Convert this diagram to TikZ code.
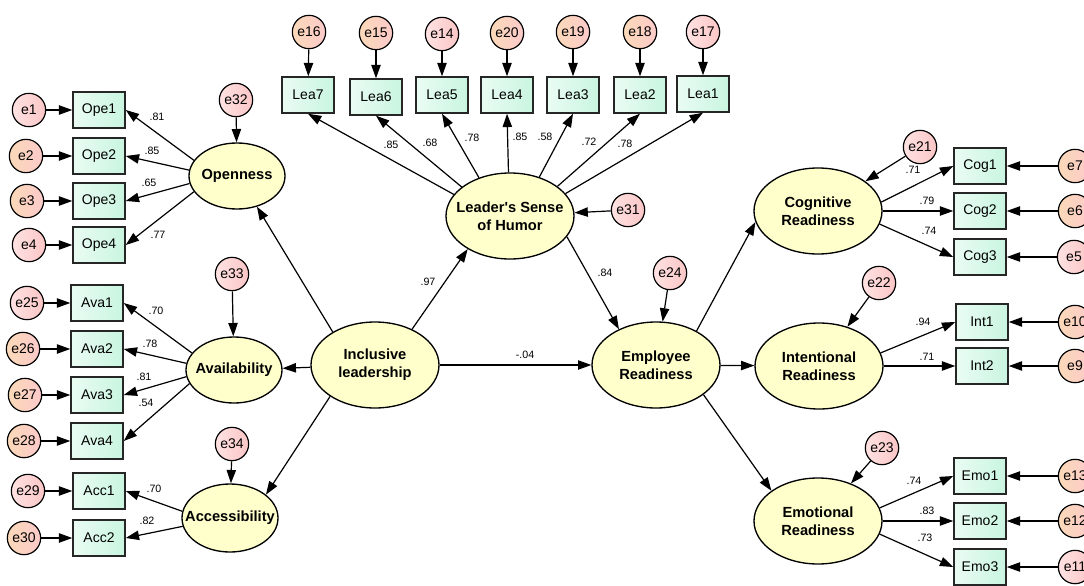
\documentclass[tikz,border=0pt]{standalone}
\usepackage{fontspec}
\setmainfont{Liberation Sans}
\usetikzlibrary{arrows.meta,shapes.geometric}
\definecolor{latfill}{HTML}{FFFFCC}
\definecolor{boxL}{HTML}{EAFCF3}
\definecolor{boxR}{HTML}{C9F5E0}
\definecolor{pinkL}{HTML}{FFE2E2}
\definecolor{pinkR}{HTML}{FBC6C6}
\definecolor{peachL}{HTML}{FBD9B8}
\definecolor{peachR}{HTML}{FCCACA}
\begin{document}
\begin{tikzpicture}[x=0.75pt,y=-0.75pt,
  conn/.style={-{Triangle[length=10pt,width=7pt]},line width=0.9pt},
  obs/.style={draw=black!85,line width=1.1pt,minimum width=39pt,minimum height=27pt,inner sep=0pt,left color=boxL,right color=boxR,font=\fontsize{10.5}{12}\selectfont},
  lat/.style={ellipse,draw,line width=1pt,fill=latfill,inner sep=0pt},
  latS/.style={lat,minimum width=72pt,minimum height=49.5pt},
  latL/.style={lat,minimum width=96pt,minimum height=64.5pt},
  lattext/.style={font=\fontsize{11}{13.5}\selectfont\bfseries,align=center,inner sep=0pt},
  err/.style={circle,draw,line width=0.9pt,minimum size=25pt,inner sep=0pt,font=\fontsize{10.5}{12}\selectfont},
  errP/.style={err,left color=pinkL,right color=pinkR},
  errO/.style={err,left color=peachL,right color=peachR},
  coef/.style={font=\fontsize{8}{9}\selectfont,inner sep=0pt}]
\useasboundingbox (0,0) rectangle (1084,585);
\clip (0,0) rectangle (1084,585);
% ---------- left: Openness
\node[errP] (e1) at (29,110) {e1}; \node[obs] (ope1) at (99,110) {Ope1};
\node[errO] (e2) at (26,156) {e2}; \node[obs] (ope2) at (99,156) {Ope2};
\node[errO] (e3) at (27,201) {e3}; \node[obs] (ope3) at (99,201) {Ope3};
\node[errP] (e4) at (29,245) {e4}; \node[obs] (ope4) at (99,245) {Ope4};
\node[latS] (open) at (237,176) {}; \node[lattext] (opent) at (open) {Openness};
\node[errP] (e32) at (236,100) {e32};
% ---------- Availability
\node[errP] (e25) at (27,303) {e25}; \node[obs] (ava1) at (97,303) {Ava1};
\node[errO] (e26) at (23,349) {e26}; \node[obs] (ava2) at (97,349) {Ava2};
\node[errO] (e27) at (25,395) {e27}; \node[obs] (ava3) at (97,395) {Ava3};
\node[errO] (e28) at (24,441) {e28}; \node[obs] (ava4) at (97,441) {Ava4};
\node[latS] (avail) at (234,370) {}; \node[lattext] (availt) at (avail) {Availability};
\node[errP] (e33) at (232,274) {e33};
% ---------- Accessibility
\node[errP] (e29) at (28,491) {e29}; \node[obs] (acc1) at (99,491) {Acc1};
\node[errO] (e30) at (24,538) {e30}; \node[obs] (acc2) at (99,538) {Acc2};
\node[lat,minimum width=72pt,minimum height=51pt] (access) at (230,518) {};
\node[lattext] (accesst) at (access) {Accessibility};
\node[errP] (e34) at (232,444) {e34};
% ---------- top: Leader's sense of humor
\node[obs] (lea7) at (308,95) {Lea7}; \node[errO] (e16) at (309,32) {e16};
\node[obs] (lea6) at (376,97) {Lea6}; \node[errO] (e15) at (376,33) {e15};
\node[obs] (lea5) at (442,95) {Lea5}; \node[errP] (e14) at (442,34) {e14};
\node[obs] (lea4) at (507,95) {Lea4}; \node[errO] (e20) at (507,33) {e20};
\node[obs] (lea3) at (573,95) {Lea3}; \node[errO] (e19) at (573,32) {e19};
\node[obs] (lea2) at (640,95) {Lea2}; \node[errO] (e18) at (640,32) {e18};
\node[obs] (lea1) at (703,94) {Lea1}; \node[errP] (e17) at (703,32) {e17};
\node[latL] (lsh) at (510,216) {}; \node[lattext] (lsht) at (lsh) {Leader\textquotesingle s Sense\\of Humor};
\node[errP] (e31) at (628,210) {e31};
% ---------- centre
\node[latL] (il) at (375,365) {}; \node[lattext] (ilt) at (il) {Inclusive\\leadership};
\node[latL] (er) at (656,365) {}; \node[lattext] (ert) at (er) {Employee\\Readiness};
\node[errP] (e24) at (670,273) {e24};
% ---------- right: Cognitive
\node[latL] (cog) at (818,211) {}; \node[lattext] (cogt) at (cog) {Cognitive\\Readiness};
\node[errP] (e21) at (920,147) {e21};
\node[obs] (cog1) at (980,166) {Cog1}; \node[errO] (e7) at (1075,166) {e7};
\node[obs] (cog2) at (980,211) {Cog2}; \node[errO] (e6) at (1075,211) {e6};
\node[obs] (cog3) at (980,257) {Cog3}; \node[errP] (e5) at (1074,257) {e5};
% ---------- Intentional
\node[latL] (intr) at (819,366) {}; \node[lattext] (intrt) at (intr) {Intentional\\Readiness};
\node[errP] (e22) at (879,283) {e22};
\node[obs] (i1) at (982,322) {Int1}; \node[errO] (e10) at (1075,322) {e10};
\node[obs] (i2) at (982,366) {Int2}; \node[errO] (e9) at (1075,366) {e9};
% ---------- Emotional
\node[latL] (emo) at (818,521) {}; \node[lattext] (emot) at (emo) {Emotional\\Readiness};
\node[errP] (e23) at (882,448) {e23};
\node[obs] (emo1) at (980,476) {Emo1}; \node[errO] (e13) at (1075,476) {e13};
\node[obs] (emo2) at (980,521) {Emo2}; \node[errO] (e12) at (1075,521) {e12};
\node[obs] (emo3) at (980,567) {Emo3}; \node[errP] (e11) at (1075,567) {e11};
% ---------- error arrows
\foreach \a/\b in {e1/ope1,e2/ope2,e3/ope3,e4/ope4,e25/ava1,e26/ava2,e27/ava3,e28/ava4,e29/acc1,e30/acc2,
  e16/lea7,e15/lea6,e14/lea5,e20/lea4,e19/lea3,e18/lea2,e17/lea1,
  e7/cog1,e6/cog2,e5/cog3,e10/i1,e9/i2,e13/emo1,e12/emo2,e11/emo3,
  e32/open,e33/avail,e34/access,e31/lsh,e24/er,e21/cog,e22/intr,e23/emo}
  \draw[conn] (\a) -- (\b);
% ---------- loadings
\draw[conn] (open.160) -- (ope1.east);
\draw[conn] (open.173) -- (ope2.east);
\draw[conn] (open.189) -- (ope3.east);
\draw[conn] (open.200) -- (ope4.east);
\draw[conn] (avail.158) -- (ava1.east);
\draw[conn] (avail.172) -- (ava2.east);
\draw[conn] (avail.188) -- (ava3.east);
\draw[conn] (avail.197) -- (ava4.east);
\draw[conn] (access.172) -- (acc1.east);
\draw[conn] (access.190) -- (acc2.east);
\draw[conn] (lsh.159) -- (lea7.south);
\draw[conn] (lsh.149) -- (lea6.south);
\draw[conn] (lsh.129) -- (lea5.south);
\draw[conn] (lsh.92) -- (lea4.south);
\draw[conn] (lsh.53) -- (lea3.south);
\draw[conn] (lsh.32) -- (lea2.south);
\draw[conn] (lsh.22) -- (lea1.south);
\draw[conn] (cog.8) -- (cog1.west);
\draw[conn] (cog.0) -- (cog2.west);
\draw[conn] (cog.-12) -- (cog3.west);
\draw[conn] (intr.12) -- (i1.west);
\draw[conn] (intr.0) -- (i2.west);
\draw[conn] (emo.12) -- (emo1.west);
\draw[conn] (emo.0) -- (emo2.west);
\draw[conn] (emo.-12) -- (emo3.west);
% ---------- structural paths
\draw[conn] (il.142) -- (open.-57);
\draw[conn] (il) -- (avail);
\draw[conn] (il.215) -- (access.33);
\draw[conn] (il.44) -- (lsh.218);
\draw[conn] (lsh.-20) -- (er.136);
\draw[conn] (il) -- (er);
\draw[conn] (er.40) -- (cog.190);
\draw[conn] (er) -- (intr);
\draw[conn] (er.-32) -- (emo.147);
% ---------- coefficients
\node[coef] (c1) at (157,117) {.81};
\node[coef] (c2) at (152,151) {.85};
\node[coef] (c3) at (149,183) {.65};
\node[coef] (c4) at (158,235) {.77};
\node[coef] (c5) at (156,311) {.70};
\node[coef] (c6) at (150,344) {.78};
\node[coef] (c7) at (144,377) {.81};
\node[coef] (c8) at (146,403) {.54};
\node[coef] (c9) at (154,489) {.70};
\node[coef] (c10) at (147,521) {.82};
\node[coef] (c11) at (391,145) {.85};
\node[coef] (c12) at (430,143) {.68};
\node[coef] (c13) at (472,138) {.78};
\node[coef] (c14) at (520,137) {.85};
\node[coef] (c15) at (545,137) {.58};
\node[coef] (c16) at (589,142) {.72};
\node[coef] (c17) at (625,144) {.78};
\node[coef] (c18) at (428,282) {.97};
\node[coef] (c19) at (605,273) {.84};
\node[coef] (c20) at (525,355) {-.04};
\node[coef] (c21) at (913,170) {.71};
\node[coef] (c22) at (927,201) {.79};
\node[coef] (c23) at (929,231) {.74};
\node[coef] (c24) at (923,322) {.94};
\node[coef] (c25) at (927,357) {.71};
\node[coef] (c26) at (914,481) {.74};
\node[coef] (c27) at (927,511) {.83};
\node[coef] (c28) at (925,538) {.73};
\end{tikzpicture}
\end{document}
